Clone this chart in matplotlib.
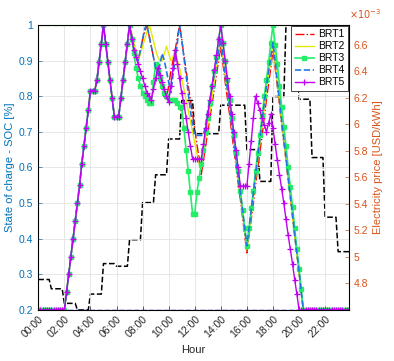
import numpy as np
import matplotlib
import matplotlib.pyplot as plt
from matplotlib.ticker import FuncFormatter

matplotlib.use("Agg")
plt.rcParams["font.family"] = ["Liberation Sans", "DejaVu Sans"]

# 10-minute samples over the day
steps_per_hour = 6
hour_labels = ["00:00", "02:00", "04:00", "06:00", "08:00", "10:00",
               "12:00", "14:00", "16:00", "18:00", "20:00", "22:00"]

# SOC shared by all buses until 07:00
soc_common = [0.2, 0.2, 0.2, 0.2, 0.2, 0.2, 0.2, 0.2, 0.2, 0.2, 0.2, 0.2, 0.2,
              0.25, 0.30, 0.35, 0.40, 0.45, 0.50, 0.55, 0.61, 0.66, 0.71, 0.76,
              0.816, 0.816, 0.816, 0.846, 0.897, 0.948, 1.0, 0.948, 0.897, 0.846,
              0.794, 0.743, 0.743, 0.743, 0.794, 0.846, 0.897, 0.948, 1.0]

# SOC after 07:00 (07:10 .. 23:50)
brt1_rest = [0.975, 0.95, 0.925, 0.90, 0.93, 0.96, 0.98, 1.0, 0.97, 0.94,
             0.91, 0.88, 0.86, 0.84, 0.82, 0.80, 0.79, 0.83, 0.87, 0.90,
             0.93, 0.965, 1.0, 0.96, 0.915, 0.875, 0.83, 0.79, 0.75, 0.71,
             0.665, 0.625, 0.58, 0.62, 0.66, 0.70, 0.74, 0.78, 0.82, 0.86,
             0.90, 0.94, 0.89, 0.84, 0.795, 0.75, 0.70, 0.65, 0.605, 0.555,
             0.51, 0.46, 0.41, 0.36, 0.41, 0.455, 0.50, 0.55, 0.60, 0.645,
             0.69, 0.74, 0.79, 0.835, 0.88, 0.93, 0.88, 0.83, 0.775, 0.72,
             0.67, 0.62, 0.565, 0.515, 0.46, 0.41, 0.36, 0.305, 0.25, 0.2,
             0.2, 0.2, 0.2, 0.2, 0.2, 0.2, 0.2, 0.2, 0.2, 0.2,
             0.2, 0.2, 0.2, 0.2, 0.2, 0.2, 0.2, 0.2, 0.2, 0.2, 0.2]
brt2_rest = [0.975, 0.95, 0.925, 0.90, 0.92, 0.94, 0.96, 0.98, 1.0, 0.98,
             0.955, 0.93, 0.91, 0.90, 0.90, 0.92, 0.94, 0.92, 0.90, 0.91,
             0.93, 0.90, 0.88, 0.85, 0.82, 0.79, 0.76, 0.73, 0.70, 0.67,
             0.64, 0.61, 0.60, 0.64, 0.68, 0.72, 0.76, 0.80, 0.84, 0.88,
             0.92, 0.96, 0.91, 0.86, 0.815, 0.77, 0.72, 0.67, 0.62, 0.57,
             0.525, 0.475, 0.425, 0.37, 0.42, 0.47, 0.52, 0.57, 0.62, 0.67,
             0.72, 0.77, 0.82, 0.86, 0.905, 0.95, 0.895, 0.84, 0.785, 0.73,
             0.68, 0.625, 0.57, 0.52, 0.465, 0.41, 0.355, 0.305, 0.25, 0.2,
             0.2, 0.2, 0.2, 0.2, 0.2, 0.2, 0.2, 0.2, 0.2, 0.2,
             0.2, 0.2, 0.2, 0.2, 0.2, 0.2, 0.2, 0.2, 0.2, 0.2, 0.2]
brt3_rest = [0.96, 0.92, 0.88, 0.85, 0.83, 0.81, 0.80, 0.79, 0.78, 0.78,
             0.84, 0.89, 0.87, 0.85, 0.83, 0.81, 0.80, 0.79, 0.79, 0.79,
             0.79, 0.78, 0.77, 0.77, 0.71, 0.65, 0.59, 0.53, 0.47, 0.47,
             0.53, 0.57, 0.61, 0.65, 0.70, 0.74, 0.78, 0.83, 0.87, 0.91,
             0.96, 1.0, 0.95, 0.90, 0.845, 0.79, 0.74, 0.69, 0.64, 0.59,
             0.535, 0.48, 0.43, 0.38, 0.43, 0.485, 0.535, 0.59, 0.64, 0.69,
             0.745, 0.80, 0.845, 0.895, 0.95, 1.0, 0.945, 0.89, 0.83, 0.77,
             0.715, 0.66, 0.60, 0.545, 0.49, 0.43, 0.37, 0.315, 0.26, 0.2,
             0.2, 0.2, 0.2, 0.2, 0.2, 0.2, 0.2, 0.2, 0.2, 0.2,
             0.2, 0.2, 0.2, 0.2, 0.2, 0.2, 0.2, 0.2, 0.2, 0.2, 0.2]
brt4_rest = [0.97, 0.94, 0.91, 0.90, 0.93, 0.96, 0.99, 1.0, 0.97, 0.94,
             0.91, 0.88, 0.86, 0.89, 0.92, 0.90, 0.87, 0.84, 0.81, 0.86,
             0.90, 0.95, 1.0, 0.96, 0.91, 0.86, 0.81, 0.76, 0.72, 0.69,
             0.69, 0.69, 0.69, 0.69, 0.72, 0.76, 0.79, 0.83, 0.86, 0.89,
             0.93, 0.96, 0.91, 0.86, 0.82, 0.77, 0.72, 0.67, 0.62, 0.57,
             0.53, 0.48, 0.43, 0.38, 0.43, 0.48, 0.53, 0.58, 0.63, 0.68,
             0.73, 0.78, 0.83, 0.87, 0.91, 0.95, 0.90, 0.84, 0.79, 0.73,
             0.68, 0.63, 0.57, 0.52, 0.47, 0.41, 0.36, 0.31, 0.25, 0.2,
             0.2, 0.2, 0.2, 0.2, 0.2, 0.2, 0.2, 0.2, 0.2, 0.2,
             0.2, 0.2, 0.2, 0.2, 0.2, 0.2, 0.2, 0.2, 0.2, 0.2, 0.2]
brt5_rest = [0.96, 0.93, 0.91, 0.89, 0.87, 0.85, 0.83, 0.81, 0.80, 0.79,
             0.82, 0.85, 0.88, 0.86, 0.84, 0.82, 0.80, 0.785, 0.83, 0.88,
             0.93, 0.89, 0.85, 0.81, 0.78, 0.74, 0.70, 0.66, 0.624, 0.624,
             0.624, 0.624, 0.624, 0.665, 0.71, 0.75, 0.79, 0.83, 0.875, 0.915,
             0.96, 1.0, 0.95, 0.90, 0.85, 0.80, 0.75, 0.70, 0.65, 0.60,
             0.548, 0.548, 0.548, 0.548, 0.61, 0.675, 0.74, 0.80, 0.78, 0.76,
             0.74, 0.72, 0.70, 0.725, 0.75, 0.71, 0.665, 0.62, 0.58, 0.54,
             0.50, 0.455, 0.41, 0.37, 0.33, 0.285, 0.245, 0.2, 0.2, 0.2,
             0.2, 0.2, 0.2, 0.2, 0.2, 0.2, 0.2, 0.2, 0.2, 0.2,
             0.2, 0.2, 0.2, 0.2, 0.2, 0.2, 0.2, 0.2, 0.2, 0.2, 0.2]

# hourly electricity price [USD/kWh]
price_hourly = [4.83e-3, 4.76e-3, 4.65e-3, 4.60e-3, 4.72e-3, 4.95e-3,
                4.93e-3, 5.13e-3, 5.41e-3, 5.62e-3, 5.89e-3, 6.18e-3,
                5.93e-3, 5.93e-3, 6.145e-3, 6.145e-3, 5.81e-3, 5.57e-3,
                6.21e-3, 6.75e-3, 6.19e-3, 5.75e-3, 5.30e-3, 5.04e-3]

soc_min, soc_max = 0.2, 1.0

series = [
    ("BRT1", brt1_rest, dict(color="#FF0000", ls="-.", lw=1.0)),
    ("BRT2", brt2_rest, dict(color="#E3EA00", ls="-", lw=1.0)),
    ("BRT3", brt3_rest, dict(color="#22EE66", ls="-", lw=1.2, marker="s", ms=2.8)),
    ("BRT4", brt4_rest, dict(color="#1F78E0", ls="--", lw=1.2)),
    ("BRT5", brt5_rest, dict(color="#C000F0", ls="-", lw=1.0, marker="+", ms=4, mew=0.9)),
]

blue = "#0072BD"
orange = "#D95319"
gray = "#262626"

n = len(soc_common) + len(brt1_rest)
t = np.arange(n) / steps_per_hour

fig = plt.figure(figsize=(3.94, 3.61), dpi=100)
ax1 = fig.add_axes([0.0972, 0.1413, 0.7886, 0.7895])
ax2 = ax1.twinx()

ax1.plot(t, np.full(n, soc_max), color="#66EE66", ls="--", lw=1.0, zorder=1)
ax1.plot(t, np.full(n, soc_min), color="#0000E6", ls="--", lw=1.0, zorder=1)
for name, rest, style in series:
    ax1.plot(t, soc_common + rest, label=name, **style)

ax2.plot(t, np.repeat(price_hourly, steps_per_hour), color="black", ls="--", lw=1.1)

ax1.set_xlim(0, t[-1])
ax1.set_ylim(0.2, 1.0)
ax2.set_ylim(4.6e-3, 6.75e-3)

ax1.set_xticks(np.arange(0, 24, 2))
ax1.set_xticklabels(hour_labels, rotation=45, ha="right", va="top",
                    rotation_mode="anchor", fontsize=7.5, color=gray)
ax1.set_yticks(np.arange(0.2, 1.01, 0.1))
ax1.yaxis.set_major_formatter(FuncFormatter(lambda v, p: "%g" % round(v, 2)))
ax2.set_yticks(np.arange(4.8e-3, 6.61e-3, 0.2e-3))
ax2.yaxis.set_major_formatter(FuncFormatter(lambda v, p: "%g" % round(v * 1e3, 2)))

ax1.tick_params(axis="x", direction="in", length=3, width=0.5, colors=gray, pad=3)
ax1.tick_params(axis="y", direction="in", length=3, width=0.5, colors=blue, labelsize=7.5)
ax2.tick_params(axis="y", direction="in", length=3, width=0.5, colors=orange, labelsize=7.5)

ax1.grid(True, color="#E3E3E3", lw=0.6)
ax1.set_axisbelow(True)

for sp in ["top", "bottom"]:
    ax2.spines[sp].set_color(gray)
    ax2.spines[sp].set_linewidth(0.6)
ax2.spines["left"].set_color(blue)
ax2.spines["right"].set_color(orange)
ax2.spines["left"].set_linewidth(0.6)
ax2.spines["right"].set_linewidth(0.6)

ax1.set_xlabel("Hour", fontsize=8, color=gray, labelpad=4)
ax1.set_ylabel("State of charge - SOC [%]", fontsize=8, color=blue, labelpad=3)
ax2.set_ylabel("Electricity price [USD/kWh]", fontsize=8, color=orange, labelpad=3)
ax2.text(1.0, 1.015, r"$\times10^{-3}$", transform=ax2.transAxes, fontsize=7,
         color=orange, ha="left", va="bottom")

leg = ax1.legend(loc="upper right", bbox_to_anchor=(1.0, 1.0), borderaxespad=0.1,
                 fontsize=7.5, handlelength=1.9, handletextpad=0.4, labelspacing=0.2,
                 borderpad=0.3, fancybox=False, framealpha=1, edgecolor=gray)
leg.get_frame().set_linewidth(0.6)
ax1.set_zorder(ax2.get_zorder() + 1)
ax1.patch.set_visible(False)

fig.savefig("out.png", dpi=100)
plt.close(fig)
